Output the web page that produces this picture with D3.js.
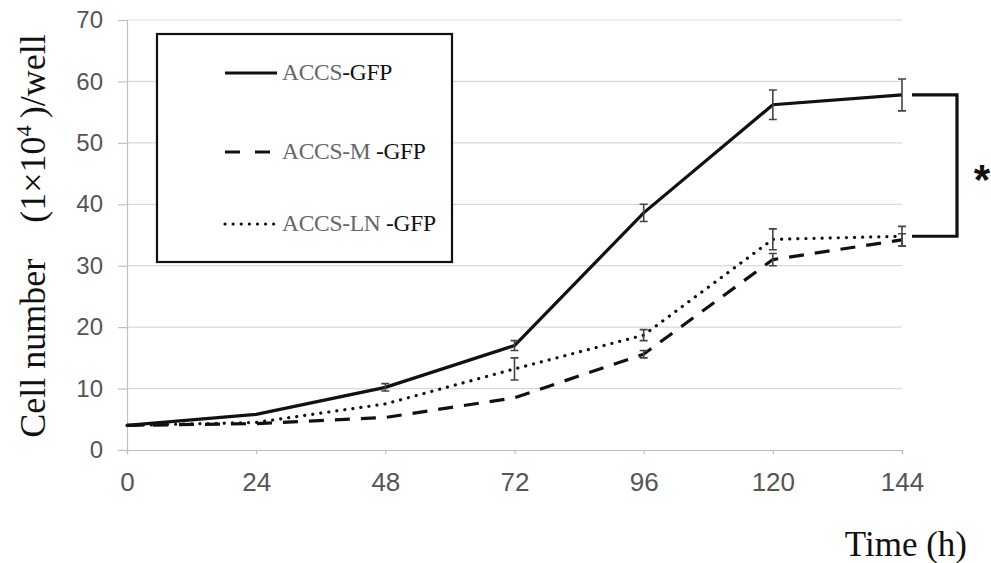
<!DOCTYPE html>
<html>
<head>
<meta charset="utf-8">
<script src="https://cdn.jsdelivr.net/npm/d3@7"></script>
<style>
  body { margin: 0; background: #fff; }
</style>
</head>
<body>
<div id="chart"></div>
<script>
// time points (h)
var hours = [0, 24, 48, 72, 96, 120, 144];
var yTicks = [0, 10, 20, 30, 40, 50, 60, 70];

// cell number (1x10^4 / well)
var accs = [4.0, 5.8, 10.2, 17.0, 38.6, 56.2, 57.8];
var accsErr = [0, 0, 0.6, 0.8, 1.4, 2.4, 2.6];
var accsM = [4.0, 4.3, 5.3, 8.5, 15.6, 31.0, 34.2];
var accsMErr = [0, 0, 0, 0, 0.6, 1.0, 1.0];
var accsLN = [4.0, 4.5, 7.5, 13.2, 18.7, 34.3, 34.8];
var accsLNErr = [0, 0, 0, 1.8, 0.9, 1.7, 1.6];

var series = [
    { name: "ACCS", suffix: "-GFP", values: accs, err: accsErr, dash: null },
    { name: "ACCS-M", suffix: " -GFP", values: accsM, err: accsMErr, dash: "15,11" },
    { name: "ACCS-LN", suffix: " -GFP", values: accsLN, err: accsLNErr, dash: "0.1,8" }
];

function draw_chart() {
    const W = 991, H = 563;
    const LEFT = 127, RIGHT = 902, TOP = 20, BOTTOM = 450;

    var x = d3.scaleLinear().domain([0, 144]).range([LEFT, RIGHT]);
    var y = d3.scaleLinear().domain([0, 70]).range([BOTTOM, TOP]);

    var svg = d3.select("#chart")
        .append("svg")
            .attr("width", W)
            .attr("height", H);

    // gridlines
    svg.append("g")
        .selectAll("line")
        .data(yTicks.slice(1))
        .enter()
        .append("line")
            .attr("x1", LEFT)
            .attr("x2", RIGHT)
            .attr("y1", d => y(d))
            .attr("y2", d => y(d))
            .attr("stroke", "#d9d9d9")
            .attr("stroke-width", 1.2);

    // y axis
    var yAxis = svg.append("g")
        .attr("transform", "translate(" + LEFT + ",0)")
        .call(d3.axisLeft(y).tickValues(yTicks).tickSize(9).tickPadding(15));
    yAxis.select(".domain").attr("stroke", "#bfbfbf").attr("stroke-width", 1.2);
    yAxis.selectAll(".tick line").attr("stroke", "#bfbfbf").attr("stroke-width", 1.2);
    yAxis.selectAll("text")
        .attr("font-family", "Liberation Sans, Arial, sans-serif")
        .attr("font-size", 24)
        .attr("fill", "#555");

    // x axis
    var xAxis = svg.append("g")
        .attr("transform", "translate(0," + BOTTOM + ")")
        .call(d3.axisBottom(x).tickValues(hours).tickSize(4).tickPadding(19));
    xAxis.select(".domain").attr("stroke", "#bfbfbf").attr("stroke-width", 1.2);
    xAxis.selectAll(".tick line").attr("stroke", "#bfbfbf").attr("stroke-width", 1.2);
    xAxis.selectAll("text")
        .attr("font-family", "Liberation Sans, Arial, sans-serif")
        .attr("font-size", 26)
        .attr("fill", "#555");

    var line = d3.line()
        .x((d, i) => x(hours[i]))
        .y(d => y(d));

    // lines
    series.forEach(function (s) {
        svg.append("path")
            .attr("d", line(s.values))
            .attr("fill", "none")
            .attr("stroke", "#111")
            .attr("stroke-width", 3.2)
            .attr("stroke-linecap", s.dash && s.dash.indexOf("0.1") === 0 ? "round" : "butt")
            .attr("stroke-dasharray", s.dash);
    });

    // error bars
    series.forEach(function (s) {
        var g = svg.append("g");
        var pts = hours.map((h, i) => ({ h: h, v: s.values[i], e: s.err[i] })).filter(d => d.e > 0);
        g.selectAll(".eb")
            .data(pts)
            .enter()
            .append("path")
                .attr("d", d => {
                    var cx = x(d.h), y0 = y(d.v - d.e), y1 = y(d.v + d.e);
                    return "M" + (cx - 4) + "," + y1 + "H" + (cx + 4) +
                        "M" + cx + "," + y1 + "V" + y0 +
                        "M" + (cx - 4) + "," + y0 + "H" + (cx + 4);
                })
                .attr("fill", "none")
                .attr("stroke", "#444")
                .attr("stroke-width", 1.6);
    });

    // legend
    var lg = svg.append("g");
    lg.append("rect")
        .attr("x", 157)
        .attr("y", 34)
        .attr("width", 295)
        .attr("height", 228)
        .attr("fill", "#fff")
        .attr("stroke", "#111")
        .attr("stroke-width", 2.2);
    var legY = [73, 152, 224];
    series.forEach(function (s, i) {
        lg.append("line")
            .attr("x1", 225)
            .attr("x2", 277)
            .attr("y1", legY[i])
            .attr("y2", legY[i])
            .attr("stroke", "#111")
            .attr("stroke-width", 3.2)
            .attr("stroke-linecap", s.dash && s.dash.indexOf("0.1") === 0 ? "round" : "butt")
            .attr("stroke-dasharray", s.dash ? (i === 1 ? "15,15" : "0.1,8") : null);
        var t = lg.append("text")
            .attr("x", 282)
            .attr("y", legY[i] + 7)
            .attr("font-family", "Liberation Serif, Times New Roman, serif")
            .attr("font-size", 23.5)
            .attr("letter-spacing", -0.3);
        t.append("tspan").attr("fill", "#666").text(s.name);
        t.append("tspan").attr("fill", "#111").text(s.suffix);
    });

    // significance bracket
    var yTop = y(accs[6]), yBot = y(accsLN[6]);
    svg.append("path")
        .attr("d", "M912," + yTop + "H957V" + yBot + "H912")
        .attr("fill", "none")
        .attr("stroke", "#111")
        .attr("stroke-width", 3.2);
    svg.append("text")
        .attr("x", 982)
        .attr("y", (yTop + yBot) / 2 + 28)
        .attr("text-anchor", "middle")
        .attr("font-family", "Liberation Sans, Arial, sans-serif")
        .attr("font-weight", "bold")
        .attr("font-size", 42)
        .attr("fill", "#111")
        .text("*");

    // axis titles
    var yl = svg.append("text")
        .attr("transform", "translate(45,236) rotate(-90)")
        .attr("text-anchor", "middle")
        .attr("font-family", "Liberation Serif, Times New Roman, serif")
        .attr("font-size", 36)
        .attr("fill", "#111")
        .style("white-space", "pre");
    yl.append("tspan").text("Cell number\u2003(1\u00d710");
    yl.append("tspan").attr("font-size", 22).attr("dy", -14).text("4");
    yl.append("tspan").attr("dy", 14).text("\u2009)/well");

    svg.append("text")
        .attr("x", 967)
        .attr("y", 556)
        .attr("text-anchor", "end")
        .attr("font-family", "Liberation Serif, Times New Roman, serif")
        .attr("font-size", 35)
        .attr("fill", "#111")
        .text("Time (h)");
}

draw_chart();
</script>
</body>
</html>
